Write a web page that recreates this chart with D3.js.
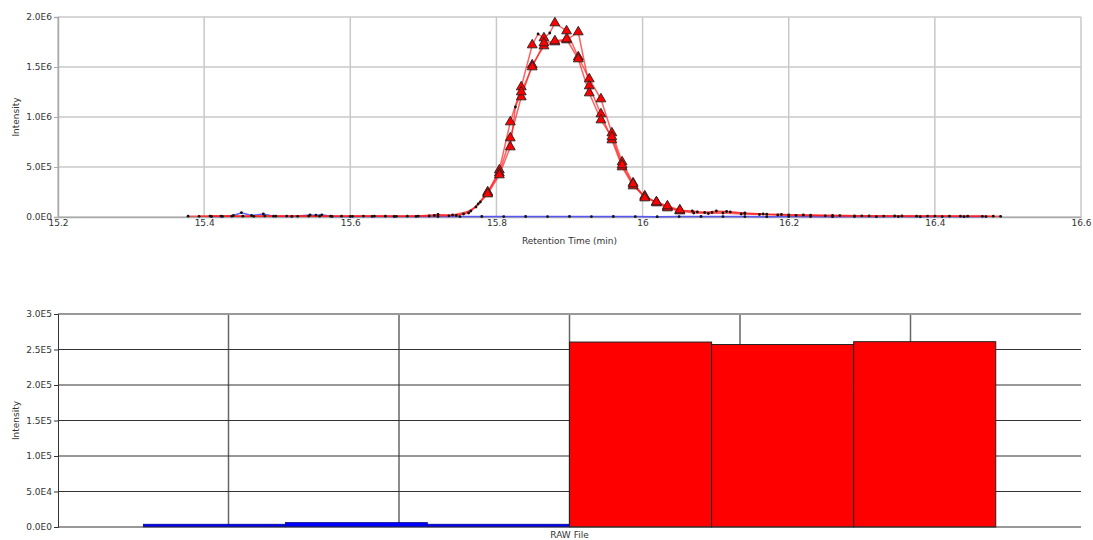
<!DOCTYPE html>
<html>
<head>
<meta charset="utf-8">
<script src="https://cdn.jsdelivr.net/npm/d3@7"></script>
<style>
  body { margin: 0; background: #fff; }
  svg text { font-family: "DejaVu Sans", Verdana, sans-serif; font-size: 9px; fill: #333; }
</style>
</head>
<body>
<div id="chart"></div>
<script>
// chromatogram replicates (retention time in min, intensity)
const rep1Times = [15.378,15.423,15.468,15.513,15.558,15.603,15.648,15.693,15.720,15.745,15.762,15.775,15.788,15.804,15.819,15.834,15.849,15.857,15.865,15.873,15.880,15.896,15.912,15.927,15.943,15.958,15.972,15.987,16.003,16.019,16.034,16.051,16.068,16.085,16.101,16.120,16.140,16.165,16.190,16.220,16.260,16.300,16.345,16.390,16.435,16.480];
const rep1Values = [8000,9000,7000,9000,8000,7000,8000,9000,25000,15000,40000,130000,240000,470000,950000,1300000,1720000,1830000,1790000,1840000,1940000,1860000,1600000,1380000,1180000,840000,550000,340000,200000,150000,100000,63000,60000,45000,60000,50000,40000,30000,25000,20000,15000,12000,10000,9000,8000,8000];

const rep2Times = [15.393,15.438,15.483,15.528,15.573,15.618,15.663,15.708,15.735,15.755,15.772,15.788,15.804,15.819,15.834,15.849,15.865,15.880,15.896,15.912,15.927,15.943,15.958,15.972,15.987,16.003,16.019,16.034,16.051,16.070,16.090,16.110,16.135,16.160,16.185,16.210,16.250,16.290,16.330,16.375,16.420,16.465];
const rep2Values = [7000,8000,9000,7000,8000,9000,7000,10000,12000,30000,100000,250000,440000,790000,1200000,1520000,1710000,1750000,1770000,1850000,1310000,1030000,770000,500000,310000,210000,140000,90000,60000,40000,35000,40000,30000,25000,20000,15000,12000,10000,9000,8000,8000,7000];

const rep3Times = [15.408,15.453,15.498,15.543,15.588,15.633,15.678,15.715,15.740,15.765,15.778,15.788,15.804,15.819,15.826,15.834,15.849,15.865,15.880,15.896,15.912,15.927,15.943,15.958,15.972,15.987,16.003,16.019,16.034,16.051,16.075,16.095,16.115,16.140,16.170,16.200,16.230,16.270,16.310,16.355,16.400,16.445,16.490];
const rep3Values = [9000,8000,8000,9000,8000,9000,8000,15000,20000,60000,150000,230000,420000,700000,1100000,1250000,1500000,1740000,1760000,1780000,1580000,1240000,970000,800000,520000,330000,190000,150000,110000,70000,50000,45000,55000,35000,28000,22000,18000,14000,11000,10000,9000,8000,7000];

const blankTimes = [15.410,15.425,15.440,15.451,15.465,15.481,15.495,15.520,15.545,15.553,15.561,15.575,15.600,15.630,15.660,15.690,15.720,15.750,15.780,15.810,15.840,15.870,15.900,15.930,15.960,15.990,16.020,16.050,16.080,16.110,16.140,16.170,16.200,16.230,16.260,16.290,16.320,16.350,16.380,16.410,16.440,16.470];
const blankValues = [5000,6000,15000,43000,15000,30000,8000,6000,20000,18000,22000,6000,5000,6000,5000,6000,5000,4000,5000,4000,5000,4000,6000,4000,5000,4000,3000,4000,5000,4000,4000,3000,5000,4000,3000,4000,3000,4000,3000,4000,3000,4000];

// scans with identification (drawn as triangles)
const idTimes = [15.788,15.804,15.819,15.834,15.849,15.865,15.880,15.896,15.912,15.927,15.943,15.958,15.972,15.987,16.003,16.019,16.034,16.051];

const rtTicks = [15.2,15.4,15.6,15.8,16.0,16.2,16.4,16.6];
const topIntTicks = [0,500000,1000000,1500000,2000000];

// integrated areas per raw file
const rawFiles = ["Blank_1","Blank_2","Blank_3","Sample_1","Sample_2","Sample_3"];
const areaValues = [4000,6500,4000,260500,257000,261000];
const areaColors = ["#0000ff","#0000ff","#0000ff","#ff0000","#ff0000","#ff0000"];
const areaTicks = [0,50000,100000,150000,200000,250000,300000];

const W = 1093, H = 540;
const left = 58, right = 1081;

const sci = d => {
  if (d === 0) return "0.0E0";
  const e = Math.floor(Math.log10(d));
  return (d / Math.pow(10, e)).toFixed(1) + "E" + e;
};

const svg = d3.select("#chart").append("svg").attr("width", W).attr("height", H);

// ---------- top: chromatogram ----------
const top1 = 17, bot1 = 217;
const x = d3.scaleLinear().domain([15.2, 16.6]).range([left, right]);
const y = d3.scaleLinear().domain([0, 2000000]).range([bot1, top1]);

const g1 = svg.append("g");

g1.selectAll("line.vg").data(rtTicks).enter().append("line")
  .attr("x1", d => x(d)).attr("x2", d => x(d)).attr("y1", top1).attr("y2", bot1)
  .attr("stroke", "#c8c8c8").attr("stroke-width", 1.5);
g1.selectAll("line.hg").data(topIntTicks).enter().append("line")
  .attr("x1", left).attr("x2", right).attr("y1", d => y(d)).attr("y2", d => y(d))
  .attr("stroke", "#c8c8c8").attr("stroke-width", 1.5);

const yAx1 = g1.append("g").attr("transform", `translate(${left},0)`)
  .call(d3.axisLeft(y).tickValues(topIntTicks).tickFormat(sci).tickSize(4).tickPadding(2));
const xAx1 = g1.append("g").attr("transform", `translate(0,${bot1})`)
  .call(d3.axisBottom(x).tickValues(rtTicks).tickFormat(d => String(+d.toFixed(1))).tickSize(0).tickPadding(3));
[yAx1, xAx1].forEach(a => {
  a.select(".domain").attr("stroke", "#aaa").attr("stroke-width", 1.5);
  a.selectAll(".tick line").attr("stroke", "#aaa");
  a.selectAll("text").attr("fill", "#333");
});

g1.append("text").attr("x", (left + right) / 2).attr("y", 244).attr("text-anchor", "middle")
  .text("Retention Time (min)");
g1.append("text").attr("transform", `translate(19,${(top1 + bot1) / 2}) rotate(-90)`)
  .attr("text-anchor", "middle").text("Intensity");

const line = d3.line().x(d => x(d[0])).y(d => y(d[1]));
const reps = [
  d3.zip(rep1Times, rep1Values),
  d3.zip(rep2Times, rep2Values),
  d3.zip(rep3Times, rep3Values)
];
const blank = d3.zip(blankTimes, blankValues);

g1.append("path").datum(blank).attr("d", line)
  .attr("fill", "none").attr("stroke", "#3a3aff").attr("stroke-width", 1.5).attr("opacity", 0.8);
reps.forEach(r => {
  g1.append("path").datum(r).attr("d", line)
    .attr("fill", "none").attr("stroke", "#ff2020").attr("stroke-width", 1.5).attr("opacity", 0.7);
});

const allPts = reps.flat().concat(blank);
g1.selectAll("circle.pt").data(allPts).enter().append("circle")
  .attr("cx", d => x(d[0])).attr("cy", d => y(d[1])).attr("r", 1.4).attr("fill", "#111");

const isId = d => idTimes.some(t => Math.abs(t - d[0]) < 0.0005);
const tri = d3.symbol().type(d3.symbolTriangle).size(42);
g1.selectAll("path.tri").data(reps.flat().filter(isId)).enter().append("path")
  .attr("d", tri)
  .attr("transform", d => `translate(${x(d[0])},${y(d[1])})`)
  .attr("fill", "#ff0000").attr("stroke", "#222").attr("stroke-width", 0.9);

// ---------- bottom: areas per raw file ----------
const top2 = 314, bot2 = 527;
const xb = d3.scaleBand().domain(rawFiles).range([left, right]).paddingInner(0).paddingOuter(0.6);
const yb = d3.scaleLinear().domain([0, 300000]).range([bot2, top2]);
const xg = d3.scaleLinear().domain([0, 6]).range([left, right]);

const g2 = svg.append("g");

g2.selectAll("line.vg").data([1, 2, 3, 4, 5]).enter().append("line")
  .attr("x1", d => xg(d)).attr("x2", d => xg(d)).attr("y1", top2).attr("y2", bot2)
  .attr("stroke", "#666").attr("stroke-width", 1.5);
g2.selectAll("line.hg").data(areaTicks.slice(1)).enter().append("line")
  .attr("x1", left).attr("x2", right).attr("y1", d => yb(d)).attr("y2", d => yb(d))
  .attr("stroke", d => d === 300000 ? "#999" : "#333")
  .attr("stroke-width", d => d === 300000 ? 2 : 1);

g2.selectAll("rect.bar").data(areaValues).enter().append("rect")
  .attr("x", (d, i) => xb(rawFiles[i]))
  .attr("y", d => yb(d))
  .attr("width", xb.bandwidth())
  .attr("height", d => bot2 - yb(d))
  .attr("fill", (d, i) => areaColors[i])
  .attr("stroke", (d, i) => i < 3 ? "#000066" : "#222")
  .attr("stroke-width", (d, i) => i < 3 ? 0.6 : 1);

const yAx2 = g2.append("g").attr("transform", `translate(${left},0)`)
  .call(d3.axisLeft(yb).tickValues(areaTicks).tickFormat(sci).tickSize(4).tickPadding(2));
yAx2.select(".domain").attr("stroke", "#333");
yAx2.selectAll(".tick line").attr("stroke", "#333");
g2.append("line").attr("x1", left).attr("x2", right).attr("y1", bot2).attr("y2", bot2)
  .attr("stroke", "#333").attr("stroke-width", 1);

g2.append("text").attr("x", (left + right) / 2).attr("y", 538).attr("text-anchor", "middle")
  .text("RAW File");
g2.append("text").attr("transform", `translate(19,${(top2 + bot2) / 2}) rotate(-90)`)
  .attr("text-anchor", "middle").text("Intensity");
</script>
</body>
</html>
